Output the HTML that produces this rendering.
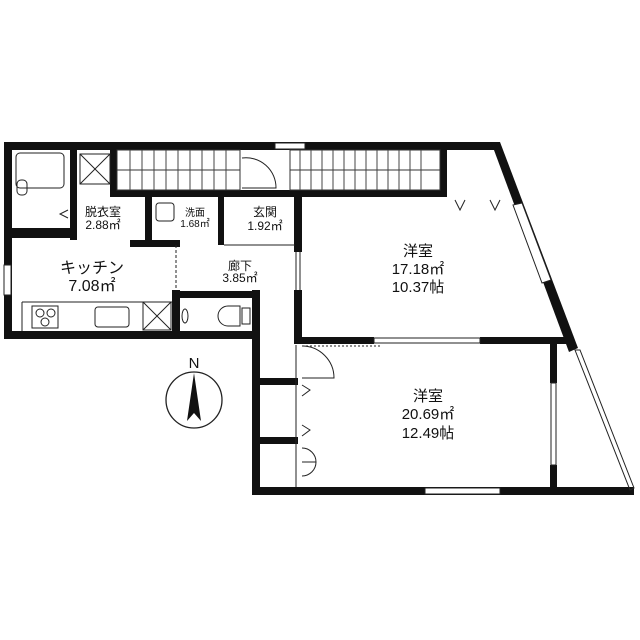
<!DOCTYPE html>
<html><head><meta charset="utf-8"><style>
html,body{margin:0;padding:0;background:#fff}
svg{display:block}
text{font-family:"Liberation Sans","Noto Sans CJK JP",sans-serif;fill:#111;text-anchor:middle}
</style></head><body>
<svg width="640" height="640" viewBox="0 0 640 640" xmlns="http://www.w3.org/2000/svg">
<g fill="#111">
<rect x="4" y="142" width="494" height="8"/>
<rect x="4" y="142" width="8" height="196"/>
<rect x="4" y="331" width="256" height="8"/>
<rect x="252" y="290" width="8" height="205"/>
<rect x="252" y="487" width="382" height="8"/>
<polygon points="491,142 500,142 578,348 569,352"/>
<rect x="110" y="190" width="337" height="7"/>
<rect x="110" y="142" width="7" height="55"/>
<rect x="440" y="142" width="7" height="55"/>
<rect x="12" y="228" width="60" height="10"/>
<rect x="70" y="150" width="7" height="90"/>
<rect x="145" y="197" width="7" height="48"/>
<rect x="218" y="197" width="6" height="48"/>
<rect x="130" y="240" width="50" height="7"/>
<rect x="294" y="197" width="8" height="55"/>
<rect x="294" y="290" width="8" height="54"/>
<rect x="172" y="290" width="8" height="49"/>
<rect x="172" y="291" width="86" height="7"/>
<rect x="294" y="337" width="80" height="7"/>
<rect x="480" y="337" width="92" height="7"/>
<rect x="550" y="343" width="7" height="40"/>
<rect x="550" y="465" width="7" height="25"/>
<rect x="258" y="378" width="40" height="7"/>
<rect x="258" y="437" width="40" height="7"/>
</g>
<g fill="none" stroke="#222" stroke-width="1">
<rect x="275" y="143" width="30" height="6" fill="#fff"/>
<rect x="4" y="265" width="7" height="30" fill="#fff"/>
<rect x="374" y="338" width="106" height="5" fill="#fff"/>
<rect x="551" y="383" width="5" height="82" fill="#fff"/>
<rect x="425" y="488" width="75" height="6" fill="#fff"/>
<polygon points="575,350 580,350 634,488 630,490"/>
<polygon points="513,205 522,203 551,280 542,283" fill="#fff"/>
<line x1="296" y1="252" x2="296" y2="290"/>
<line x1="300" y1="252" x2="300" y2="290"/>
<g stroke="#333">
<rect x="117" y="150" width="123" height="40"/>
<rect x="290" y="150" width="150" height="40"/>
<line x1="117" y1="170" x2="240" y2="170"/>
<line x1="290" y1="170" x2="440" y2="170"/>
</g>
<g stroke="#444">
<line x1="130" y1="150" x2="130" y2="190"/><line x1="142" y1="150" x2="142" y2="190"/><line x1="154" y1="150" x2="154" y2="190"/><line x1="166" y1="150" x2="166" y2="190"/><line x1="178" y1="150" x2="178" y2="190"/><line x1="190" y1="150" x2="190" y2="190"/><line x1="202" y1="150" x2="202" y2="190"/><line x1="214" y1="150" x2="214" y2="190"/><line x1="226" y1="150" x2="226" y2="190"/>
<line x1="300" y1="150" x2="300" y2="190"/><line x1="311" y1="150" x2="311" y2="190"/><line x1="322" y1="150" x2="322" y2="190"/><line x1="333" y1="150" x2="333" y2="190"/><line x1="344" y1="150" x2="344" y2="190"/><line x1="355" y1="150" x2="355" y2="190"/><line x1="366" y1="150" x2="366" y2="190"/><line x1="377" y1="150" x2="377" y2="190"/><line x1="388" y1="150" x2="388" y2="190"/><line x1="399" y1="150" x2="399" y2="190"/><line x1="410" y1="150" x2="410" y2="190"/><line x1="421" y1="150" x2="421" y2="190"/>
</g>
<path d="M242,158 A30,30 0 0 1 276,188 L242,188"/>
<rect x="16" y="153" width="48" height="35" rx="4"/>
<rect x="17" y="180" width="10" height="15" rx="4"/>
<polyline points="68,210 60,214 68,218"/>
<rect x="80" y="154" width="30" height="30"/><line x1="80" y1="154" x2="110" y2="184"/><line x1="110" y1="154" x2="80" y2="184"/>
<rect x="143" y="302" width="28" height="28"/><line x1="143" y1="302" x2="171" y2="330"/><line x1="171" y1="302" x2="143" y2="330"/>
<rect x="156" y="203" width="18" height="18" rx="3"/>
<line x1="22" y1="302" x2="172" y2="302"/>
<line x1="22" y1="302" x2="22" y2="331"/>
<rect x="32" y="306" width="26" height="22"/>
<circle cx="40" cy="313" r="4"/><circle cx="51" cy="313" r="4"/><circle cx="45" cy="322" r="4"/>
<rect x="95" y="307" width="34" height="20" rx="3"/>
<ellipse cx="185" cy="316" rx="3" ry="7"/>
<path d="M240,306 L228,306 A10,10 0 0 0 228,326 L240,326 Z"/>
<rect x="242" y="308" width="8" height="16"/>
<line x1="176" y1="245" x2="176" y2="290" stroke-dasharray="3,2"/>
<line x1="224" y1="245" x2="295" y2="245"/>
<path d="M302,346 A32,32 0 0 1 334,378 L302,378"/>
<line x1="302" y1="346" x2="380" y2="346" stroke-dasharray="2,2"/>
<line x1="296" y1="345" x2="296" y2="487"/>
<polyline points="302,385 310,390 302,396"/>
<polyline points="302,425 310,430 302,436"/>
<path d="M302,448 A14,14 0 0 1 316,462 L302,462 M302,476 A14,14 0 0 0 316,462"/>
<polyline points="455,200 460,210 465,200"/>
<polyline points="490,200 495,210 500,200"/>
<circle cx="194" cy="400" r="28" stroke-width="1.3"/>
</g>
<polygon points="194,373 187,421 194,413 201,421" fill="#111"/>
<text x="194" y="368" font-size="15">N</text>
<text x="103" y="216" font-size="12">脱衣室</text>
<text x="103" y="229" font-size="12">2.88㎡</text>
<text x="195" y="216" font-size="10">洗面</text>
<text x="195" y="227" font-size="10">1.68㎡</text>
<text x="265" y="216" font-size="12">玄関</text>
<text x="265" y="230" font-size="12">1.92㎡</text>
<text x="92" y="273" font-size="16">キッチン</text>
<text x="92" y="291" font-size="16">7.08㎡</text>
<text x="240" y="270" font-size="12">廊下</text>
<text x="240" y="282" font-size="12">3.85㎡</text>
<text x="418" y="256" font-size="15">洋室</text>
<text x="418" y="274" font-size="15">17.18㎡</text>
<text x="418" y="292" font-size="15">10.37帖</text>
<text x="428" y="401" font-size="15">洋室</text>
<text x="428" y="419" font-size="15">20.69㎡</text>
<text x="428" y="438" font-size="15">12.49帖</text>
</svg>
</body></html>
